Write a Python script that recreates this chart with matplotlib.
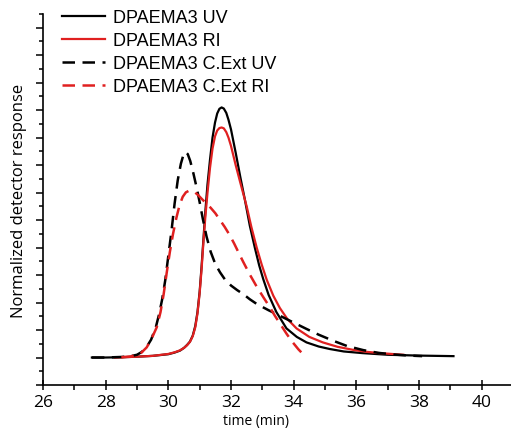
import matplotlib
matplotlib.use('Agg')
import matplotlib.pyplot as plt
from matplotlib.ticker import MultipleLocator, NullFormatter

# DPAEMA3 UV (black solid)
t_uv = [27.56, 28.0, 28.5, 29.0, 29.5, 30.0, 30.2, 30.37, 30.5, 30.6, 30.69, 30.78,
        30.86, 30.93, 31.0, 31.06, 31.12, 31.18, 31.25, 31.33, 31.41, 31.49, 31.56,
        31.63, 31.70, 31.77, 31.85, 31.92, 32.0, 32.15, 32.3, 32.44, 32.6, 32.76,
        32.9, 33.03, 33.2, 33.45, 33.77, 34.1, 34.41, 34.8, 35.15, 35.6, 36.2, 37.0,
        38.0, 39.1]
y_uv = [0.0, 0.0, 0.001, 0.003, 0.006, 0.012, 0.018, 0.025, 0.035, 0.046, 0.058, 0.080,
        0.115, 0.165, 0.24, 0.33, 0.43, 0.53, 0.63, 0.72, 0.80, 0.855, 0.888,
        0.905, 0.910, 0.906, 0.89, 0.865, 0.83, 0.745, 0.655, 0.576, 0.48, 0.40,
        0.335, 0.285, 0.228, 0.165, 0.106, 0.075, 0.055, 0.040, 0.031, 0.022, 0.016, 0.010,
        0.007, 0.005]

# DPAEMA3 RI (red solid)
t_ri = [28.3, 29.0, 29.5, 30.0, 30.2, 30.37, 30.5, 30.6, 30.69, 30.78, 30.86, 30.93,
        31.0, 31.06, 31.12, 31.18, 31.25, 31.33, 31.41, 31.49, 31.56, 31.63, 31.70,
        31.77, 31.85, 31.92, 32.0, 32.15, 32.3, 32.5, 32.65, 32.82, 32.98, 33.14,
        33.35, 33.56, 33.8, 34.09, 34.5, 34.93, 35.4, 35.89, 36.3, 36.75, 37.5]
y_ri = [0.0, 0.003, 0.006, 0.013, 0.019, 0.026, 0.035, 0.045, 0.057, 0.078, 0.11, 0.16,
        0.235, 0.32, 0.42, 0.51, 0.60, 0.69, 0.76, 0.805, 0.826, 0.835, 0.837,
        0.834, 0.82, 0.80, 0.77, 0.70, 0.635, 0.55, 0.475, 0.40, 0.338, 0.283,
        0.225, 0.18, 0.14, 0.106, 0.075, 0.055, 0.039, 0.028, 0.021, 0.016, 0.010]

# DPAEMA3 C.Ext UV (black dashed)
t_cuv = [27.56, 28.0, 28.5, 28.8, 29.0, 29.15, 29.3, 29.45, 29.6, 29.7, 29.8, 29.9,
         30.0, 30.1, 30.2, 30.3, 30.4, 30.48, 30.55, 30.62, 30.7, 30.8, 30.9, 31.0,
         31.1, 31.22, 31.35, 31.5, 31.65, 31.8, 32.0, 32.2, 32.4, 32.6, 32.82, 33.2,
         33.56, 34.0, 34.41, 34.8, 35.26, 35.7, 36.22, 36.7, 37.2, 37.7, 38.1]
y_cuv = [0.0, 0.0, 0.002, 0.005, 0.010, 0.020, 0.037, 0.065, 0.11, 0.155, 0.21, 0.28,
         0.37, 0.46, 0.56, 0.645, 0.705, 0.737, 0.748, 0.740, 0.715, 0.67, 0.62, 0.565,
         0.505, 0.44, 0.385, 0.34, 0.31, 0.285, 0.262, 0.245, 0.23, 0.212, 0.195, 0.172,
         0.152, 0.127, 0.104, 0.083, 0.061, 0.042, 0.027, 0.017, 0.011, 0.007, 0.005]

# DPAEMA3 C.Ext RI (red dashed)
t_cri = [28.5, 28.8, 29.1, 29.31, 29.45, 29.63, 29.75, 29.85, 29.95, 30.05, 30.15,
         30.26, 30.36, 30.46, 30.56, 30.66, 30.76, 30.86, 30.96, 31.06, 31.2, 31.35,
         31.5, 31.65, 31.8, 31.96, 32.1, 32.25, 32.39, 32.6, 32.82, 33.04, 33.24,
         33.4, 33.6, 33.77, 33.95, 34.15, 34.36]
y_cri = [0.001, 0.004, 0.013, 0.037, 0.065, 0.11, 0.165, 0.23, 0.31, 0.385, 0.45,
         0.51, 0.555, 0.585, 0.601, 0.607, 0.606, 0.600, 0.59, 0.578, 0.562, 0.545,
         0.525, 0.50, 0.475, 0.445, 0.415, 0.38, 0.348, 0.302, 0.258, 0.218, 0.183,
         0.152, 0.117, 0.087, 0.058, 0.03, 0.005]

red = '#e02020'
dash = (5, 3)

fig = plt.figure(figsize=(5.11, 4.35), dpi=100)
ax = fig.add_axes([43 / 511, 49 / 435, 470 / 511, 371 / 435])

ax.plot(t_uv, y_uv, color='black', lw=1.6, label='DPAEMA3 UV')
ax.plot(t_ri, y_ri, color=red, lw=1.6, label='DPAEMA3 RI')
ax.plot(t_cuv, y_cuv, color='black', lw=1.8, dashes=dash, label='DPAEMA3 C.Ext UV')
ax.plot(t_cri, y_cri, color=red, lw=1.8, dashes=dash, label='DPAEMA3 C.Ext RI')

ax.set_xlim(26, 41)
ax.set_ylim(-0.1, 1.25)
ax.xaxis.set_major_locator(MultipleLocator(2))
ax.xaxis.set_minor_locator(MultipleLocator(1))
ax.yaxis.set_major_locator(MultipleLocator(0.1))
ax.yaxis.set_minor_locator(MultipleLocator(0.05))
ax.yaxis.set_major_formatter(NullFormatter())

for s in ['top', 'right']:
    ax.spines[s].set_visible(False)
for s in ['left', 'bottom']:
    ax.spines[s].set_linewidth(1.2)

ax.tick_params(axis='x', which='major', direction='inout', length=7, width=1.1, pad=3)
ax.tick_params(axis='x', which='minor', direction='out', length=3.5, width=1.1)
ax.tick_params(axis='y', which='major', direction='out', length=5, width=1.1)
ax.tick_params(axis='y', which='minor', direction='out', length=3, width=1.1)
for lab in ax.get_xticklabels():
    lab.set_fontfamily('Open Sans')
    lab.set_fontsize(12.5)

ax.set_xlabel('time (min)', fontfamily='Open Sans', fontsize=10, labelpad=1)
ax.xaxis.set_label_coords((256 - 43) / 470, -0.075)
ax.set_ylabel('Normalized detector response', fontfamily='Open Sans', fontsize=12, labelpad=3)

ax.legend(loc='upper left', bbox_to_anchor=(62 / 511, 1 - 10 / 435),
          bbox_transform=fig.transFigure, frameon=False,
          prop={'family': 'Liberation Sans', 'size': 13},
          handlelength=2.4, handletextpad=0.45, labelspacing=0.33, borderpad=0,
          borderaxespad=0)

plt.savefig('out.png', dpi=100)
